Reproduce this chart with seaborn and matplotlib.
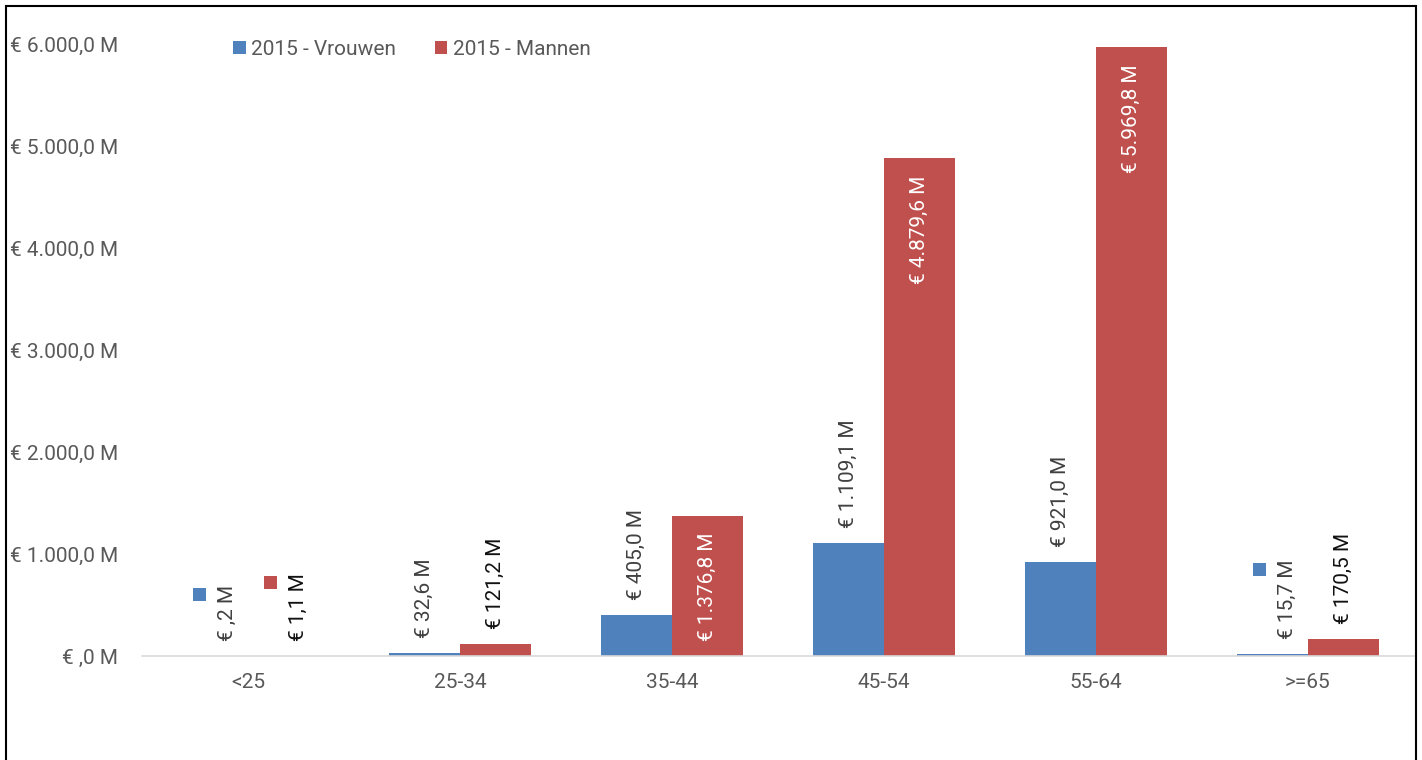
import matplotlib
matplotlib.use("Agg")
import matplotlib.pyplot as plt
import seaborn as sns
import pandas as pd
from matplotlib.patches import Rectangle
from matplotlib.transforms import IdentityTransform
from matplotlib.ticker import FuncFormatter

# Data
leeftijden = ["<25", "25-34", "35-44", "45-54", "55-64", ">=65"]
vrouwen = [0.2, 32.6, 405.0, 1109.1, 921.0, 15.7]
mannen = [1.1, 121.2, 1376.8, 4879.6, 5969.8, 170.5]
reeksen = ["2015 - Vrouwen", "2015 - Mannen"]
y_ticks = [0, 1000, 2000, 3000, 4000, 5000, 6000]

kleuren = ["#4F81BD", "#C0504D"]
label_kleuren = ["#404040", "#111111"]

sns.set_theme(style="white")
plt.rcParams["font.family"] = ["Roboto", "DejaVu Sans"]

FS = 15


def euro(v):
    """Dutch style: '€ 1.376,8 M', with an empty integer part below 1."""
    s = f"{v:,.1f}".replace(",", "X").replace(".", ",").replace("X", ".")
    if s.startswith("0,"):
        s = s[1:]
    return f"€ {s} M"


df = pd.DataFrame({
    "Leeftijd": leeftijden * 2,
    "Reeks": [reeksen[0]] * len(leeftijden) + [reeksen[1]] * len(leeftijden),
    "Bedrag": vrouwen + mannen,
})

W, H = 1422, 760
fig = plt.figure(figsize=(W / 100, H / 100), dpi=100)
ax = fig.add_axes([142 / W, 104 / H, 1272 / W, 612 / H])

sns.barplot(data=df, x="Leeftijd", y="Bedrag", hue="Reeks", order=leeftijden,
            hue_order=reeksen, palette=kleuren, width=0.67, saturation=1,
            errorbar=None, linewidth=0, ax=ax)

ax.set_xlim(-0.5, len(leeftijden) - 0.5)
ax.set_ylim(0, 6000)
ax.set_yticks(y_ticks)
ax.yaxis.set_major_formatter(FuncFormatter(lambda v, p: euro(v)))
ax.tick_params(axis="both", length=0, labelsize=FS, labelcolor="#595959")
ax.tick_params(axis="y", pad=17)
ax.tick_params(axis="x", pad=12)
ax.set_xlabel("")
ax.set_ylabel("")
for side in ["left", "right", "top"]:
    ax.spines[side].set_visible(False)
ax.spines["bottom"].set_color("#d9d9d9")
ax.spines["bottom"].set_linewidth(1.2)

# Legend
leg = ax.get_legend()
handles = leg.legend_handles
labels = [t.get_text() for t in leg.get_texts()]
ax.legend(handles, labels, loc="center left",
          bbox_to_anchor=((233 - 142) / 1272, 1 - (49.5 - 44) / 612),
          ncol=2, frameon=False, fontsize=FS, handlelength=0.62,
          handleheight=0.62, handletextpad=0.25, columnspacing=1.85,
          borderpad=0, borderaxespad=0, labelcolor="#595959")

# Data labels: outside end, Mannen inside end for the tall bars;
# tiny bars get a legend key next to their label
binnen_vanaf = [None, 1000]
sleutel_labels = []
for i, cont in enumerate(ax.containers):
    for bar in cont:
        h = bar.get_height()
        x = bar.get_x() + bar.get_width() / 2
        drempel = binnen_vanaf[i]
        if drempel is not None and h > drempel:
            ax.annotate(euro(h), xy=(x, h), xytext=(0, -17),
                        textcoords="offset pixels", rotation=90,
                        ha="center", va="top", fontsize=FS, color="white")
        else:
            dx = 15 if h < 20 else 0
            t = ax.annotate(euro(h), xy=(x, h), xytext=(dx, 15),
                            textcoords="offset pixels", rotation=90,
                            ha="center", va="bottom", fontsize=FS,
                            color=label_kleuren[i])
            if h < 20:
                sleutel_labels.append((t, kleuren[i]))

fig.canvas.draw()
for t, kleur in sleutel_labels:
    bb = t.get_window_extent()
    fig.add_artist(Rectangle((bb.x0 - 12 - 13, bb.y1 - 3 - 13), 13, 13,
                             transform=IdentityTransform(), facecolor=kleur,
                             edgecolor="none"))

# Chart frame (open at the bottom edge of the image)
fig.add_artist(Rectangle((5.5 / W, -0.05), (1416 - 5.5) / W, (H - 6) / H + 0.05,
                         transform=fig.transFigure, fill=False,
                         edgecolor="black", linewidth=1.5))

fig.savefig("out.png", dpi=100, facecolor="white")
